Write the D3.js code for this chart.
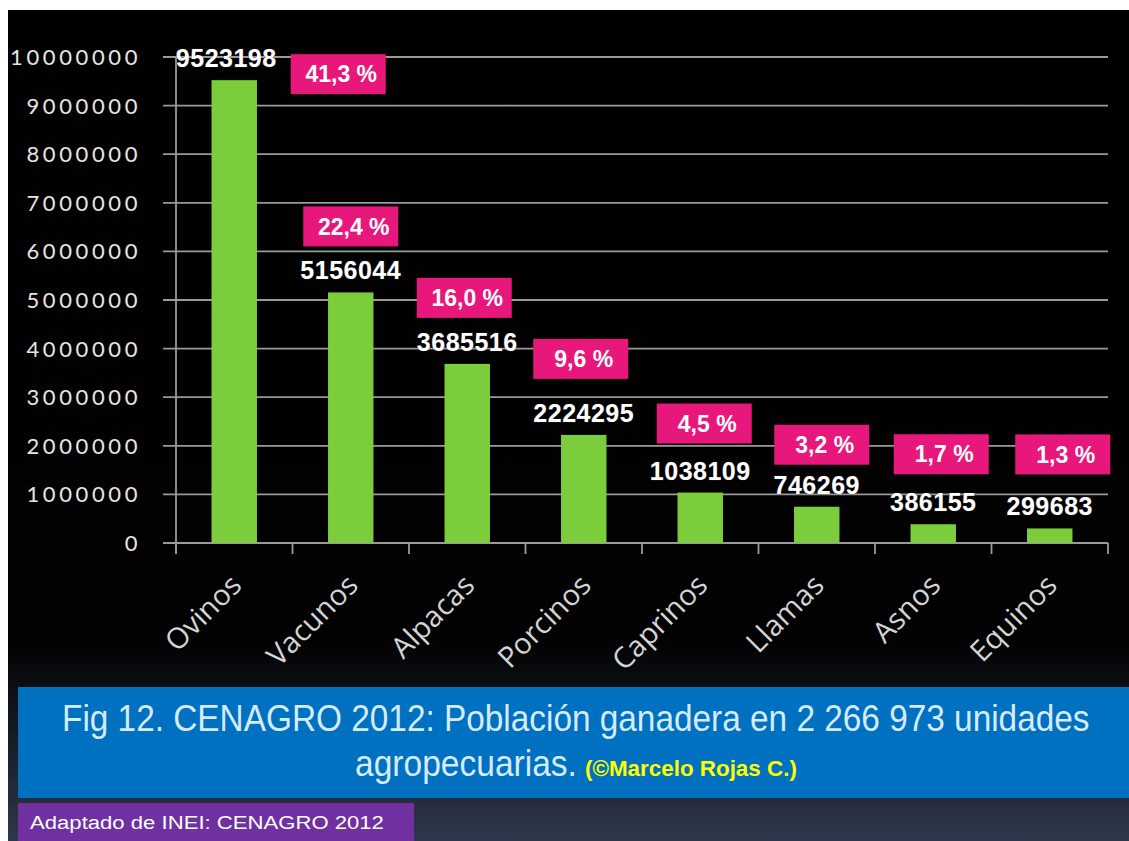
<!DOCTYPE html>
<html>
<head>
<meta charset="utf-8">
<script src="https://cdn.jsdelivr.net/npm/d3@7"></script>
<style>
  html, body { margin: 0; padding: 0; background: #ffffff; }
  svg { display: block; }
</style>
</head>
<body>
<svg id="chart" width="1129" height="841"></svg>
<script>
// ---- data ----
const categories = ["Ovinos", "Vacunos", "Alpacas", "Porcinos", "Caprinos", "Llamas", "Asnos", "Equinos"];
const values = [9523198, 5156044, 3685516, 2224295, 1038109, 746269, 386155, 299683];
const percentLabels = ["41,3 %", "22,4 %", "16,0 %", "9,6 %", "4,5 %", "3,2 %", "1,7 %", "1,3 %"];
const yTicks = [0, 1000000, 2000000, 3000000, 4000000, 5000000, 6000000, 7000000, 8000000, 9000000, 10000000];
const titleLine1 = "Fig 12. CENAGRO 2012: Población ganadera en 2 266 973 unidades";
const titleLine2 = "agropecuarias.";
const credit = "(©Marcelo Rojas C.)";
const sourceNote = "Adaptado de INEI:  CENAGRO 2012";

// ---- layout (annotation offsets, px) ----
const boxDx = [104, 0, -3, -3, 4, 5, 8, 13];
const boxDy = [60, 0, 0, -10, -3, 4, -4, -8];

const svg = d3.select("#chart");
const W = 1129, H = 841;

// background
const defs = svg.append("defs");
const grad = defs.append("linearGradient").attr("id", "bg").attr("x1", 0).attr("y1", 0).attr("x2", 0).attr("y2", 1);
grad.append("stop").attr("offset", "0").attr("stop-color", "#000000");
grad.append("stop").attr("offset", "0.76").attr("stop-color", "#020203");
grad.append("stop").attr("offset", "0.85").attr("stop-color", "#12161d");
grad.append("stop").attr("offset", "1").attr("stop-color", "#2e384c");
svg.append("rect").attr("x", 0).attr("y", 0).attr("width", W).attr("height", H).attr("fill", "#ffffff");
svg.append("rect").attr("x", 8).attr("y", 10).attr("width", W - 8).attr("height", H - 10).attr("fill", "url(#bg)");

// scales
const x = d3.scaleBand().domain(categories).range([176, 1108]).paddingInner(0.61).paddingOuter(0.305);
const y = d3.scaleLinear().domain([0, 10000000]).range([543, 57]);

// gridlines + y ticks
const g = svg.append("g");
g.selectAll("line.grid").data(yTicks).join("line")
  .attr("class", "grid")
  .attr("x1", 163).attr("x2", 1108)
  .attr("y1", d => y(d)).attr("y2", d => y(d))
  .attr("stroke", "#9a9a9a").attr("stroke-width", 1.8);

g.selectAll("text.ytick").data(yTicks).join("text")
  .attr("class", "ytick")
  .attr("x", 141).attr("y", d => y(d))
  .attr("dy", "0.36em")
  .attr("text-anchor", "end")
  .attr("fill", "#e6e6e6")
  .attr("font-family", "Lato, 'Open Sans', sans-serif")
  .attr("font-size", 22)
  .attr("letter-spacing", 3.6)
  .text(d => d3.format("d")(d));

// y axis line
g.append("line").attr("x1", 176).attr("x2", 176).attr("y1", y(10000000)).attr("y2", 554)
  .attr("stroke", "#9a9a9a").attr("stroke-width", 1.8);

// x ticks at band boundaries
const step = x.step();
const boundaries = d3.range(categories.length + 1).map(i => x.range()[0] + i * step);
g.selectAll("line.xtick").data(boundaries).join("line")
  .attr("class", "xtick")
  .attr("x1", d => d).attr("x2", d => d)
  .attr("y1", y(0)).attr("y2", 554)
  .attr("stroke", "#9a9a9a").attr("stroke-width", 1.8);

// bars
svg.append("g").selectAll("rect").data(values).join("rect")
  .attr("x", (d, i) => x(categories[i]))
  .attr("y", d => y(d))
  .attr("width", x.bandwidth())
  .attr("height", d => y(0) - y(d))
  .attr("fill", "#7ccd3b");

// value labels
svg.append("g").selectAll("text").data(values).join("text")
  .attr("x", (d, i) => x(categories[i]) + x.bandwidth() / 2 - (i === 0 ? 8 : 0))
  .attr("y", d => Math.max(y(d) - 13, 66))
  .attr("text-anchor", "middle")
  .attr("fill", "#ffffff")
  .attr("stroke", "#333")
  .attr("stroke-width", 0.6)
  .attr("paint-order", "stroke")
  .attr("font-family", "'Liberation Sans', Arial, sans-serif")
  .attr("font-weight", "bold")
  .attr("font-size", 25)
  .attr("letter-spacing", 0.5)
  .text(d => d);

// percentage boxes
const boxW = 95, boxH = 40;
const pg = svg.append("g").selectAll("g").data(percentLabels).join("g")
  .attr("transform", (d, i) => {
    const cx = x(categories[i]) + x.bandwidth() / 2 + boxDx[i];
    const top = y(values[i]) - 86 + boxDy[i];
    return `translate(${cx - boxW / 2},${top})`;
  });
pg.append("rect").attr("width", boxW).attr("height", boxH).attr("fill", "#e8177b");
pg.append("text")
  .attr("x", boxW / 2 + 3).attr("y", boxH / 2)
  .attr("dy", "0.36em")
  .attr("text-anchor", "middle")
  .attr("fill", "#ffffff")
  .attr("font-family", "'Liberation Sans', Arial, sans-serif")
  .attr("font-weight", "bold")
  .attr("font-size", 23)
  .text(d => d);

// category labels (rotated)
svg.append("g").selectAll("text").data(categories).join("text")
  .attr("transform", d => `translate(${x(d) + x.bandwidth() / 2 + 9},${587}) rotate(-45)`)
  .attr("text-anchor", "end")
  .attr("fill", "#d4d4d4")
  .attr("font-family", "'Open Sans', Lato, sans-serif")
  .attr("font-size", 29)
  .text(d => d);

// helper: text squeezed horizontally to a given width via a scale transform
function fittedText(str, x0, baseline, width, opts) {
  const grp = svg.append("g");
  const t = grp.append("text")
    .attr("x", 0).attr("y", 0)
    .attr("fill", opts.fill)
    .attr("font-family", "'Liberation Sans', Arial, sans-serif")
    .attr("font-weight", opts.weight || "normal")
    .attr("font-size", opts.size)
    .text(str);
  const natural = t.node().getComputedTextLength();
  grp.attr("transform", `translate(${x0},${baseline}) scale(${width / natural},1)`);
}

// caption box
svg.append("rect").attr("x", 18).attr("y", 687).attr("width", W - 18).attr("height", 111).attr("fill", "#0070c0");
fittedText(titleLine1, 62, 731, 1028, { fill: "#d5ebfa", size: 37 });
fittedText(titleLine2, 355, 776, 222, { fill: "#d5ebfa", size: 37 });
fittedText(credit, 585, 776, 212, { fill: "#ffff00", size: 22, weight: "bold" });

// source box
svg.append("rect").attr("x", 18).attr("y", 803).attr("width", 396).attr("height", 38).attr("fill", "#7030a0");
fittedText(sourceNote, 30, 829, 354, { fill: "#ffffff", size: 19 });
</script>
</body>
</html>
